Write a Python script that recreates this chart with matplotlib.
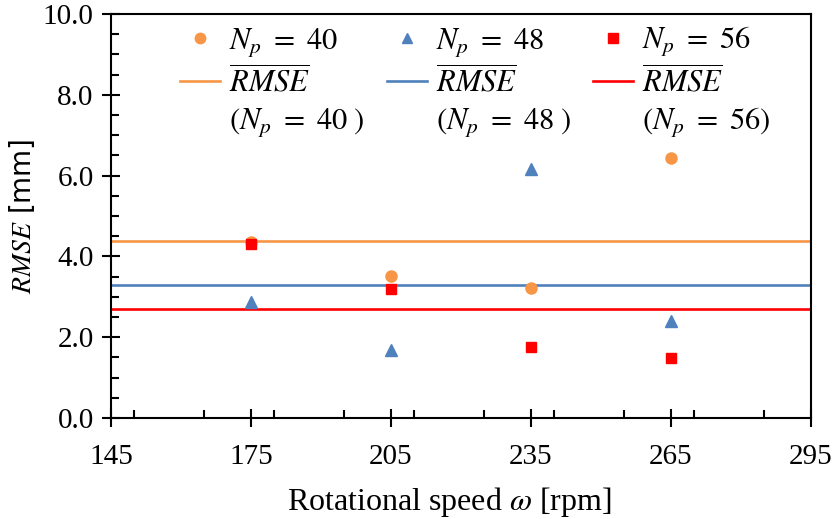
import matplotlib
matplotlib.use("Agg")
import matplotlib.pyplot as plt
from matplotlib.lines import Line2D
from matplotlib.ticker import MultipleLocator, FormatStrFormatter
import numpy as np

# Rotational speeds [rpm]
speeds = [175, 205, 235, 265]

# RMSE [mm] for each number of particles
rmse_np40 = [4.36, 3.52, 3.21, 6.44]
rmse_np48 = [2.86, 1.68, 6.16, 2.41]
rmse_np56 = [4.31, 3.19, 1.75, 1.49]

# Mean RMSE per particle count
mean_np40 = 4.38
mean_np48 = 3.28
mean_np56 = 2.69

x_ticks = [145, 175, 205, 235, 265, 295]

c40 = "#F79646"
c48 = "#4F81BD"
c56 = "#FF0000"

plt.rcParams["mathtext.fontset"] = "stix"
plt.rcParams["font.family"] = ["Liberation Serif", "DejaVu Serif"]

fig = plt.figure(figsize=(8.37, 5.19), dpi=100)
ax = fig.add_axes([0.1326, 0.1946, 0.8363, 0.7784])

# Mean lines
ax.axhline(mean_np40, color=c40, lw=1.9, zorder=2)
ax.axhline(mean_np48, color=c48, lw=1.9, zorder=2)
ax.axhline(mean_np56, color=c56, lw=1.9, zorder=2)

# Scatter points
ax.plot(speeds, rmse_np40, ls="none", marker="o", ms=8, color=c40, mec=c40, zorder=3)
ax.plot(speeds, rmse_np48, ls="none", marker="^", ms=8, color=c48, mec=c48, zorder=3)
ax.plot(speeds, rmse_np56, ls="none", marker="s", ms=7.5, color=c56, mec=c56, zorder=4)

ax.set_xlim(145, 295)
ax.set_ylim(0, 10)
ax.set_xticks(x_ticks)
ax.xaxis.set_minor_locator(MultipleLocator(15))
ax.yaxis.set_major_locator(MultipleLocator(2))
ax.yaxis.set_minor_locator(MultipleLocator(0.5))
ax.yaxis.set_major_formatter(FormatStrFormatter("%.1f"))

for s in ax.spines.values():
    s.set_linewidth(1.5)

ax.tick_params(which="major", direction="inout", length=13, width=1.5,
               labelsize=21, pad=6)
ax.tick_params(which="minor", direction="in", length=5.5, width=1.5)
ax.tick_params(axis="x", which="major", pad=12)

ax.set_xlabel(r"Rotational speed $\omega$ [rpm]", fontsize=23, labelpad=5)
ax.xaxis.set_label_coords(0.483, -0.165)
ax.set_ylabel(r"$RMSE$ [mm]", fontsize=20, labelpad=4,
              family=["DejaVu Sans"])

# Legend: markers on the first row, mean lines with two-line labels below
blank = Line2D([], [], ls="none", marker="none")
h40 = Line2D([], [], ls="none", marker="o", ms=7.5, color=c40)
h48 = Line2D([], [], ls="none", marker="^", ms=7.5, color=c48)
h56 = Line2D([], [], ls="none", marker="s", ms=7, color=c56)
l40 = Line2D([], [], color=c40, lw=1.9)
l48 = Line2D([], [], color=c48, lw=1.9)
l56 = Line2D([], [], color=c56, lw=1.9)

handles = [h40, l40, blank, h48, l48, blank, h56, l56, blank]
labels = [r"$N_p\ =\ 40$", r"$\overline{RMSE}$", r"$(N_p\ =\ 40\ )$",
          r"$N_p\ =\ 48$", r"$\overline{RMSE}$", r"$(N_p\ =\ 48\ )$",
          r"$N_p\ =\ 56$", r"$\overline{RMSE}$", r"$(N_p\ =\ 56)$"]
leg = ax.legend(handles, labels, ncol=3, frameon=False, fontsize=22,
                loc="upper left", bbox_to_anchor=(0.0815, 1.003),
                handlelength=1.3, handletextpad=0.3, columnspacing=0.72,
                labelspacing=0.22, borderaxespad=0)

fig.savefig("out.png", dpi=100)
